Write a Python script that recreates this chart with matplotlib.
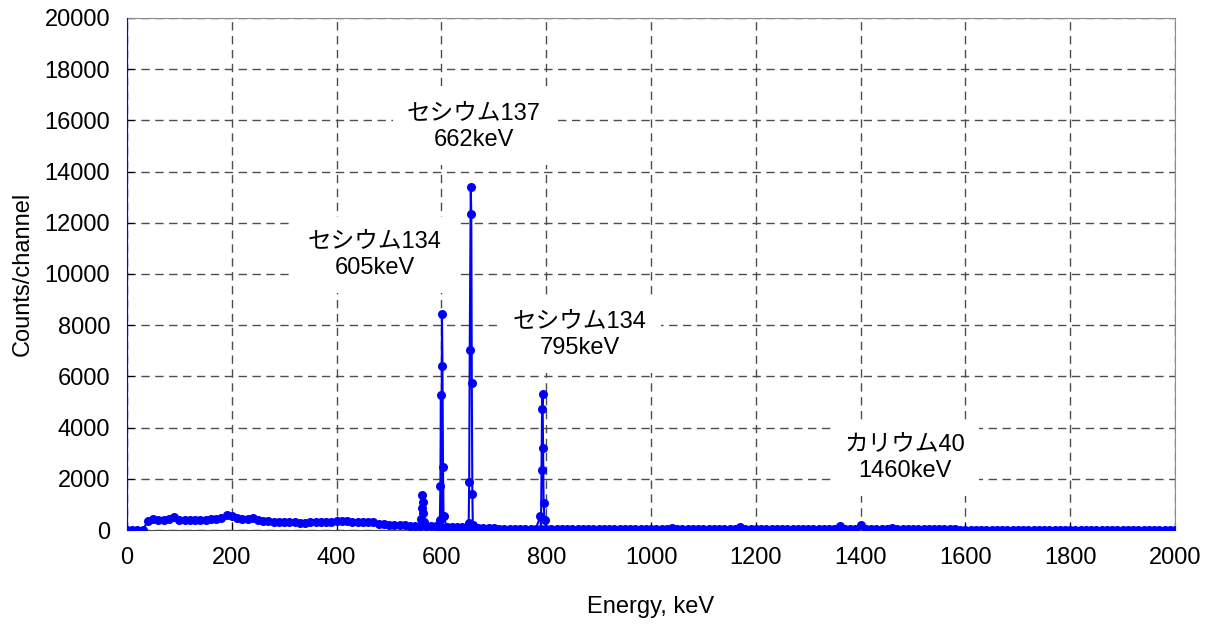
import numpy as np
import matplotlib
matplotlib.use('Agg')
import matplotlib.pyplot as plt

plt.rcParams['font.family'] = ['Liberation Sans', 'Noto Sans CJK JP']

# overflow channel at 0 keV (goes off the top of the plot)
overflow_e = [0]
overflow_c = [25000]

# continuum, read every 10 keV
base_e = list(range(0, 2001, 10))
base_c = [
    0, 0, 0, 0, 360, 420, 400, 410, 420, 520,            # 0-90
    400, 400, 410, 400, 410, 410, 420, 420, 480, 600,    # 100-190
    530, 480, 450, 430, 480, 400, 370, 350, 330, 320,    # 200-290
    310, 300, 300, 290, 290, 300, 300, 310, 320, 330,    # 300-390
    340, 350, 340, 330, 320, 310, 310, 330, 250, 220,    # 400-490
    210, 200, 190, 180, 170, 165, 160, 160, 150, 140,    # 500-590
    130, 120, 115, 110, 105, 100, 90, 70, 65, 60,        # 600-690
    60, 58, 56, 55, 54, 53, 52, 51, 50, 50,              # 700-790
    45, 42, 40, 40, 40, 38, 38, 37, 36, 35,              # 800-890
    35, 35, 34, 34, 33, 33, 33, 32, 32, 32,              # 900-990
    31, 31, 31, 31, 60, 30, 30, 30, 30, 30,              # 1000-1090
    29, 29, 29, 29, 29, 29, 28, 110, 28, 28,             # 1100-1190
    28, 28, 27, 27, 27, 27, 27, 27, 26, 26,              # 1200-1290
    26, 26, 26, 26, 26, 26, 160, 25, 25, 25,             # 1300-1390
    210, 25, 24, 24, 24, 24, 70, 24, 23, 23,             # 1400-1490
    23, 22, 22, 22, 22, 21, 21, 21, 21, 20,              # 1500-1590
    20, 20, 20, 19, 19, 19, 19, 19, 18, 18,              # 1600-1690
    18, 18, 18, 17, 17, 17, 17, 17, 16, 16,              # 1700-1790
    16, 16, 16, 16, 15, 15, 15, 15, 15, 15,              # 1800-1890
    15, 14, 14, 14, 14, 14, 14, 14, 14, 14,              # 1900-1990
    14,                                                  # 2000
]

# photopeak channels
peak_e = [561, 562, 563, 564, 565, 566,
          597, 598, 599, 601, 602, 603, 604,
          652, 653, 654, 656, 657, 658, 659, 661,
          789, 791, 792, 793, 794, 795, 797]
peak_c = [430, 846, 1367, 1107, 651, 300,
          390, 1719, 5260, 8438, 6406, 2474, 547,
          287, 1875, 7031, 13411, 12344, 5729, 1406, 200,
          547, 2344, 4713, 5312, 3203, 1068, 390]

labels = ['セシウム137\n662keV', 'セシウム134\n605keV',
          'セシウム134\n795keV', 'カリウム40\n1460keV']
label_x = [662, 473, 864, 1485]
label_y = [15740, 10740, 7620, 2810]

energy = np.array(overflow_e + base_e + peak_e, dtype=float)
counts = np.array(overflow_c + base_c + peak_c, dtype=float)
order = np.argsort(energy, kind='stable')
energy, counts = energy[order], counts[order]

fig = plt.figure(figsize=(12.12, 6.24), dpi=100)
ax = fig.add_axes([0.1048, 0.1506, 0.8647, 0.8206])

ax.plot(energy, counts, color='#0000ff', lw=1.5, marker='o', ms=6.5,
        markeredgewidth=0, zorder=3)

for t, x, y in zip(labels, label_x, label_y):
    ax.text(x, y, t, ha='center', va='center', multialignment='center',
            fontsize=17, linespacing=1.25, zorder=2,
            bbox=dict(facecolor='white', edgecolor='none', pad=10))

ax.set_xlim(0, 2000)
ax.set_ylim(0, 20000)
ax.set_xticks(range(0, 2001, 200))
ax.set_yticks(range(0, 20001, 2000))
ax.tick_params(direction='in', length=5, labelsize=17, pad=12)
ax.grid(True, color='0.3', lw=1, linestyle=(0, (6, 4)), zorder=1)
ax.set_axisbelow(True)

ax.set_xlabel('Energy, keV', fontsize=17, labelpad=20)
ax.set_ylabel('Counts/channel', fontsize=17, labelpad=8)

ax.spines['top'].set_color('0.55')
ax.spines['right'].set_color('0.55')
ax.spines['bottom'].set_color('0.3')
ax.spines['left'].set_color('#0000ff')

fig.savefig('out.png', dpi=100)
